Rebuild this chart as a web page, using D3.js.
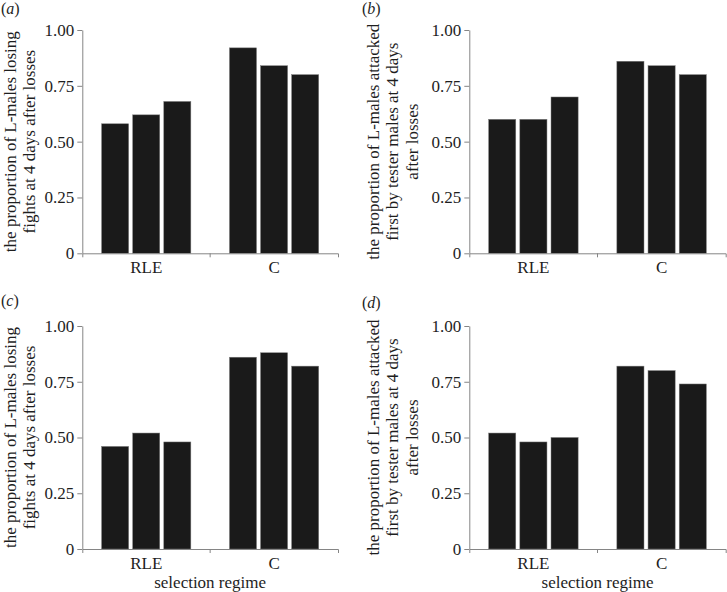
<!DOCTYPE html>
<html>
<head>
<meta charset="utf-8">
<script src="https://cdn.jsdelivr.net/npm/d3@7"></script>
<style>
  html, body { margin: 0; padding: 0; background: #fff; }
  svg { display: block; }
  text { font-family: "Liberation Serif", "Times New Roman", serif; fill: #1e1e1e; }
</style>
</head>
<body>
<script>
// ---------- data ----------
const categories = ["RLE", "C"];
const replicates = [0, 1, 2];
const yTicks = [0, 0.25, 0.5, 0.75, 1.0];

const panelA_RLE = [0.58, 0.62, 0.68];
const panelA_C   = [0.92, 0.84, 0.80];
const panelB_RLE = [0.60, 0.60, 0.70];
const panelB_C   = [0.86, 0.84, 0.80];
const panelC_RLE = [0.46, 0.52, 0.48];
const panelC_C   = [0.86, 0.88, 0.82];
const panelD_RLE = [0.52, 0.48, 0.50];
const panelD_C   = [0.82, 0.80, 0.74];

const labelLosing = ["the proportion of L-males losing", "fights at 4 days after losses"];
const labelAttacked = ["the proportion of L-males attacked", "first by tester males at 4 days", "after losses"];
const xTitle = "selection regime";

// ---------- layout ----------
const W = 727, H = 592;
const FS = 17;
const panels = [
  { tag: "a", rle: panelA_RLE, c: panelA_C, label: labelLosing,   left: 82.3,  right: 338,   top: 30,  bottom: 253.3, lab0: 15.5,  tagX: 1,   tagY: 13.5, xTitle: false },
  { tag: "b", rle: panelB_RLE, c: panelB_C, label: labelAttacked, left: 469.3, right: 725.7, top: 30,  bottom: 253.3, lab0: 378.5, tagX: 362, tagY: 13.5, xTitle: false },
  { tag: "c", rle: panelC_RLE, c: panelC_C, label: labelLosing,   left: 82.3,  right: 338,   top: 326, bottom: 549,   lab0: 15.5,  tagX: 1,   tagY: 306,  xTitle: true },
  { tag: "d", rle: panelD_RLE, c: panelD_C, label: labelAttacked, left: 469.3, right: 725.7, top: 326, bottom: 549,   lab0: 378.5, tagX: 362, tagY: 308,  xTitle: true }
];

const svg = d3.select("body").append("svg")
  .attr("width", W).attr("height", H);

function drawPanel(p) {
  const g = svg.append("g");
  const x = d3.scaleBand().domain(categories).range([p.left, p.right]);
  const bw = x.bandwidth();
  const inner = d3.scaleBand().domain(replicates)
    .range([bw * 0.151, bw * 0.849]).paddingInner(0.13);
  const y = d3.scaleLinear().domain([0, 1]).range([p.bottom, p.top]);

  const rows = [];
  categories.forEach(cat => {
    const vals = cat === "RLE" ? p.rle : p.c;
    vals.forEach((v, i) => rows.push({ cat, i, v }));
  });

  // bars
  g.append("g").selectAll("rect").data(rows).join("rect")
    .attr("x", d => x(d.cat) + inner(d.i))
    .attr("y", d => y(d.v))
    .attr("width", inner.bandwidth())
    .attr("height", d => y(0) - y(d.v))
    .attr("fill", "#1a1a1a")
    .attr("stroke", "#7a7a7a")
    .attr("stroke-width", 0.5);

  // y axis
  const yAxis = g.append("g")
    .attr("transform", `translate(${p.left},0)`)
    .call(d3.axisLeft(y).tickValues(yTicks)
      .tickFormat(d => d === 0 ? "0" : d3.format(".2f")(d))
      .tickSize(5).tickSizeOuter(0).tickPadding(3));
  yAxis.selectAll("path, line").attr("stroke", "#858585");
  yAxis.selectAll("text").attr("font-size", FS).attr("font-family", "Liberation Serif").attr("fill", "#1e1e1e");

  // x axis
  const xAxis = g.append("g")
    .attr("transform", `translate(0,${p.bottom})`)
    .call(d3.axisBottom(x).tickSize(0).tickSizeOuter(4).tickPadding(8));
  xAxis.selectAll("path, line").attr("stroke", "#858585");
  xAxis.selectAll("text").attr("font-size", FS).attr("font-family", "Liberation Serif").attr("fill", "#1e1e1e");
  // boundary ticks between categories
  xAxis.selectAll("line.sep").data(categories.slice(1)).join("line")
    .attr("class", "sep")
    .attr("x1", d => x(d)).attr("x2", d => x(d))
    .attr("y1", 0).attr("y2", 4)
    .attr("stroke", "#858585");

  // y label
  const cy = (p.top + p.bottom) / 2;
  const yl = g.append("text")
    .attr("transform", `translate(${p.lab0},${cy}) rotate(-90)`)
    .attr("text-anchor", "middle")
    .attr("font-size", FS);
  p.label.forEach((line, i) => {
    yl.append("tspan").attr("x", 0).attr("dy", i === 0 ? 0 : 19.5).text(line);
  });

  // x title
  if (p.xTitle) {
    g.append("text")
      .attr("x", x(categories[1]))
      .attr("y", p.bottom + 39)
      .attr("text-anchor", "middle")
      .attr("font-size", FS)
      .text(xTitle);
  }

  // panel tag
  const t = g.append("text")
    .attr("x", p.tagX).attr("y", p.tagY)
    .attr("font-size", 16);
  t.append("tspan").text("(");
  t.append("tspan").attr("font-style", "italic").text(p.tag);
  t.append("tspan").text(")");
}

panels.forEach(drawPanel);
</script>
</body>
</html>
